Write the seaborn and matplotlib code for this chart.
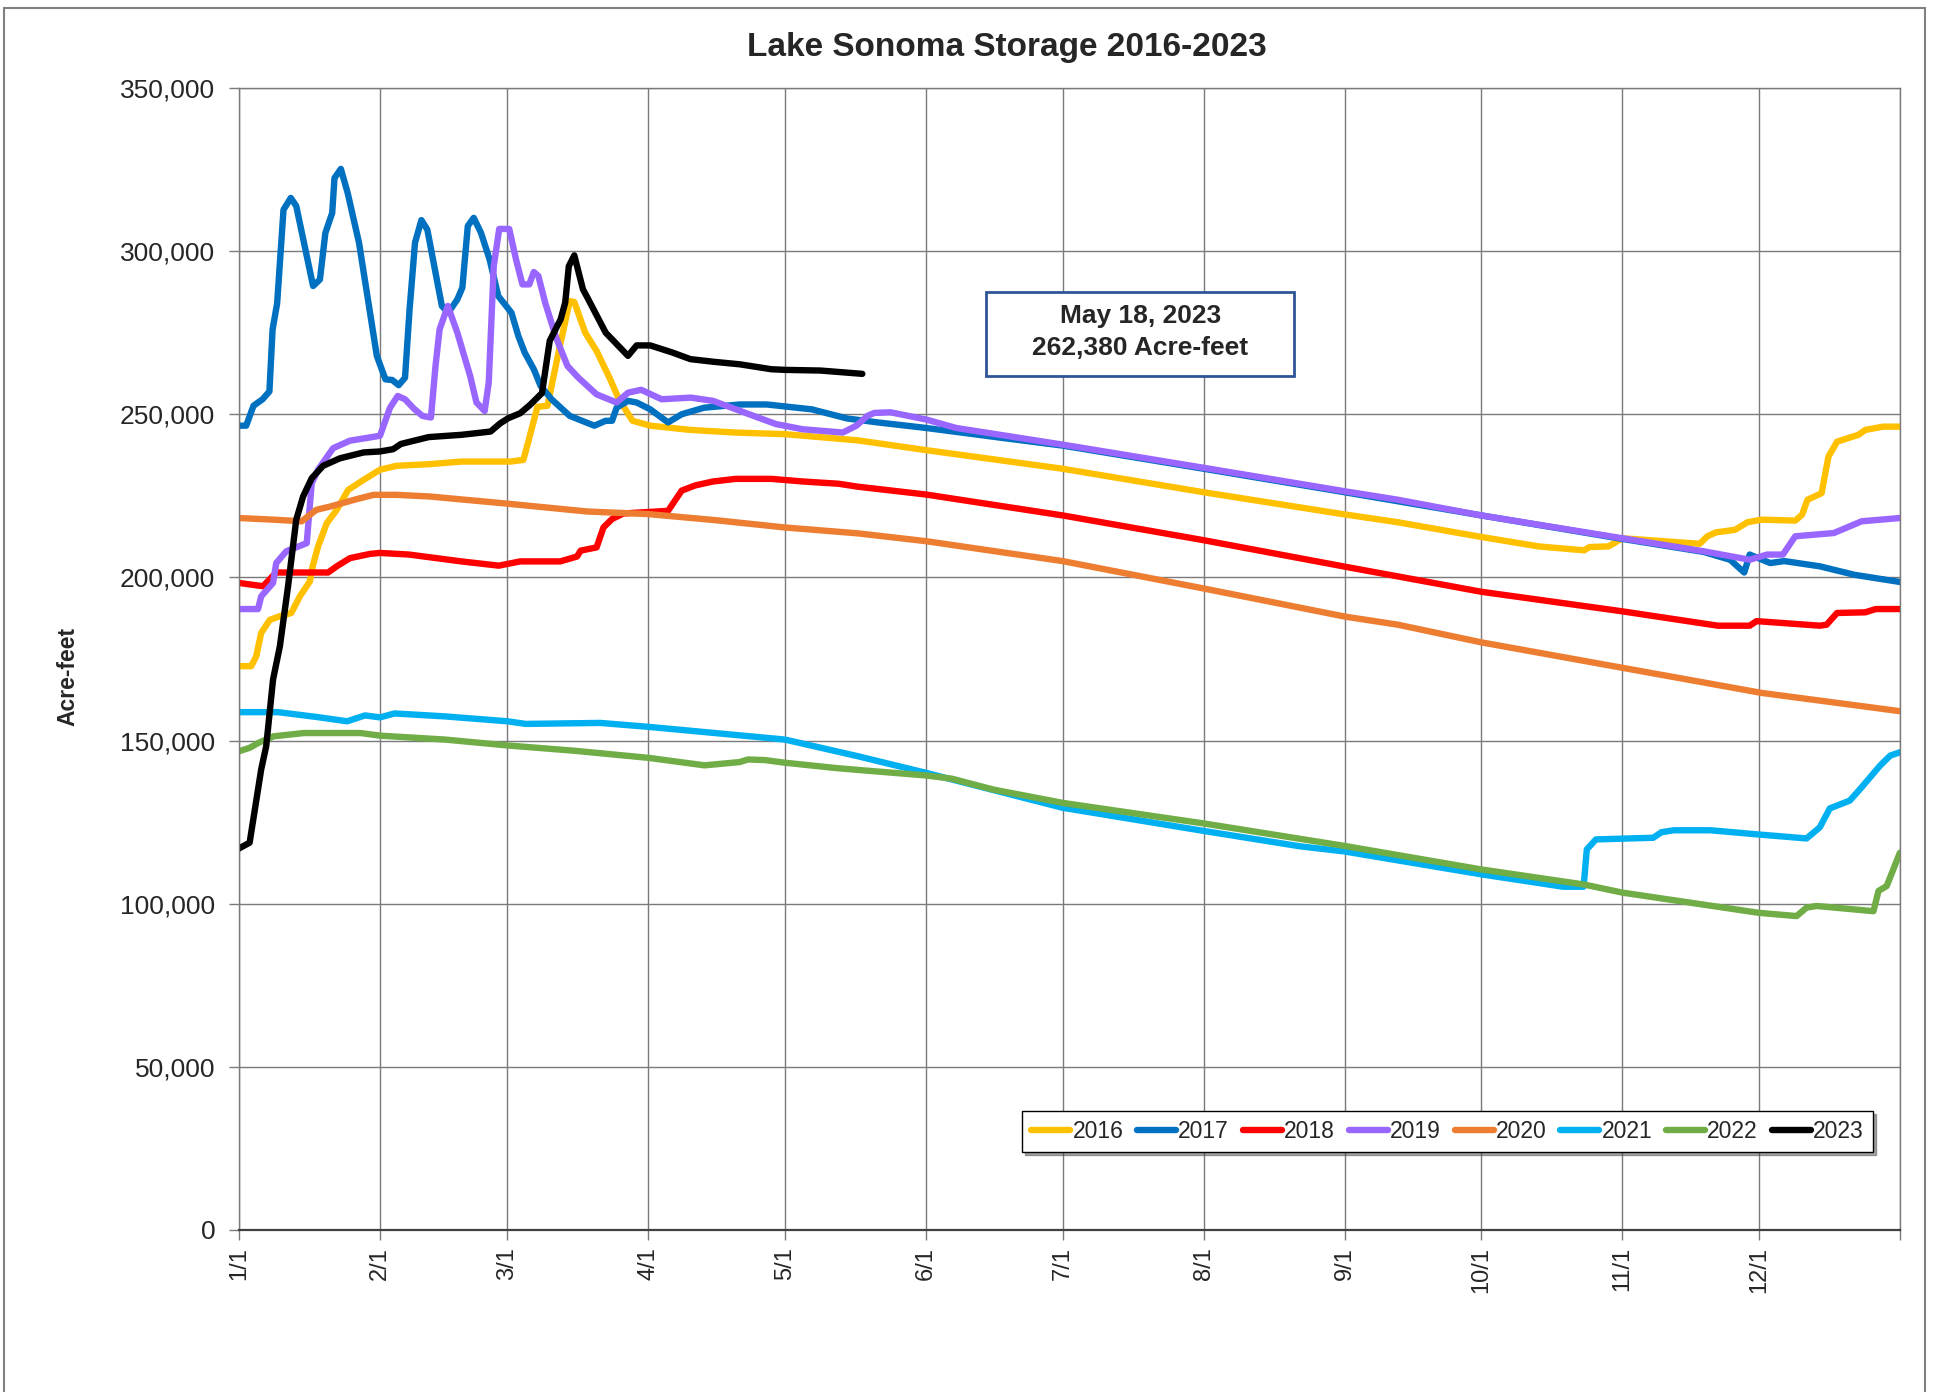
import numpy as np
import pandas as pd
import matplotlib
matplotlib.use('Agg')
import matplotlib.pyplot as plt
from matplotlib.patches import Rectangle
import seaborn as sns

# Lake Sonoma storage (thousand acre-feet), x = day of year (0 = 1/1)
years = ['2016', '2017', '2018', '2019', '2020', '2021', '2022', '2023']
colors = ['#FFC000', '#0070C0', '#FF0000', '#9966FF', '#ED7D31', '#00B0F0', '#70AD47', '#000000']

days_2016 = [0, 2.7, 3.8, 4.9, 6.8, 9, 11.5, 13.4, 15.6, 16.2, 17.4, 19.3, 21.5, 24, 27.4, 31, 34.6, 41.8,
             48.9, 59.6, 62.5, 63.5, 65.6, 67.8, 70.7, 72.7, 73.7, 76.1, 78.6, 81.6, 83.5, 86.5, 90.4, 99.2,
             109, 120, 136, 151, 181, 212, 243, 254.7, 273, 285.6, 295.6, 296.8, 301, 304, 321, 322.7, 324.6,
             328.8, 331.5, 334.6, 342, 343.5, 344.7, 347.8, 349.3, 351.2, 355.9, 357.4, 361.3, 365]
af_2016 = [172.8, 172.8, 175.8, 183.0, 187.0, 188.1, 189.1, 194.2, 198.8, 203.4, 209.5, 216.6, 220.7, 226.8,
           229.9, 233.0, 234.2, 234.7, 235.5, 235.5, 236.0, 241.1, 252.3, 252.6, 272.0, 284.7, 284.4, 275.0,
           269.4, 260.7, 254.6, 248.0, 246.5, 245.2, 244.4, 243.9, 242.0, 239.0, 233.3, 226.1, 219.3, 216.9,
           212.4, 209.5, 208.3, 209.3, 209.5, 212.0, 210.3, 212.6, 213.8, 214.6, 216.9, 217.7, 217.4, 219.2,
           223.8, 225.8, 237.0, 241.6, 243.7, 245.2, 246.2, 246.2]

days_2017 = [0, 1.6, 3.2, 5.2, 6.7, 7.4, 8.4, 9.8, 11.4, 12.6, 16.3, 17.8, 19, 20.5, 21, 22.4, 23.9, 26.4, 30.3,
             32.2, 33.7, 35.1, 36.5, 37.5, 38.7, 40.1, 41.4, 43.2, 44.6, 46, 48, 49.1, 50.3, 51.6, 53.2, 55.1,
             57, 59.9, 61.4, 62.8, 64.8, 66.3, 68.7, 72.7, 78.1, 80.6, 82, 83, 85.5, 87.4, 90.4, 94.3, 97.3,
             102.2, 110.1, 116, 125.9, 133.7, 140.4, 151, 167.5, 181, 212, 243, 273, 304, 321.9, 327.7, 330.8,
             332, 336.5, 339.6, 347.4, 355, 365]
af_2017 = [246.5, 246.5, 252.6, 254.6, 257.0, 276.0, 284.0, 312.7, 316.3, 313.8, 289.3, 291.3, 305.6, 311.7,
           322.4, 325.2, 317.8, 302.5, 267.9, 260.7, 260.5, 258.9, 261.2, 282.1, 302.6, 309.5, 306.6, 293.4,
           283.2, 281.1, 285.2, 288.8, 307.7, 310.2, 305.6, 297.4, 286.2, 281.1, 274.0, 268.9, 263.8, 258.7,
           254.6, 249.5, 246.5, 248.0, 248.0, 252.0, 254.1, 253.6, 251.5, 247.5, 250.0, 252.0, 253.0, 253.0,
           251.5, 248.7, 247.5, 245.8, 242.8, 240.4, 233.3, 226.1, 219.0, 211.8, 207.8, 205.4, 201.5, 207.0,
           204.4, 205.0, 203.4, 200.8, 198.6]

days_2018 = [0, 5.3, 8.2, 19.6, 21.5, 24.4, 28.8, 31, 37.4, 48.9, 57.1, 61.8, 70.6, 74.3, 75.1, 78.6, 80.1, 82,
             84.5, 94.3, 97.3, 100.3, 104.2, 109.2, 117, 123.9, 131.8, 136, 151, 181, 212, 243, 254.7, 273, 304,
             325, 332, 333.5, 347.4, 348.9, 351.2, 357.4, 359.7, 365]
af_2018 = [198.3, 197.3, 201.5, 201.5, 203.4, 205.9, 207.2, 207.5, 207.0, 204.9, 203.6, 204.9, 204.9, 206.4,
           208.2, 209.2, 215.3, 217.9, 219.6, 220.4, 226.6, 228.2, 229.4, 230.2, 230.2, 229.4, 228.7, 227.8,
           225.4, 219.0, 211.4, 203.3, 200.3, 195.6, 189.6, 185.2, 185.2, 186.6, 185.2, 185.5, 189.1, 189.3,
           190.3, 190.3]

days_2019 = [0, 4.2, 4.9, 7.5, 8.2, 10.4, 14.9, 16, 17.4, 20.7, 24.4, 31, 33.2, 34.9, 36.5, 38.4, 40.3, 42.2,
             43.2, 44.1, 45.9, 48, 50.8, 52.2, 54, 54.9, 56, 57.2, 59.4, 60.9, 62.3, 63.8, 64.8, 65.8, 67.3, 69.7,
             72.2, 74.6, 78.6, 83, 85.5, 88.4, 92.9, 99.3, 104.2, 113.1, 118, 123.9, 132.7, 135.7, 138.1, 139.6,
             143.2, 151, 157.6, 181, 212, 243, 254.7, 273, 304, 321.9, 332, 335.8, 339.3, 342, 350.5, 356.6, 365]
af_2019 = [190.3, 190.3, 194.2, 198.3, 204.4, 208.0, 210.5, 228.9, 233.0, 239.6, 241.9, 243.4, 252.0, 255.6,
           254.6, 251.8, 249.5, 249.0, 264.8, 276.0, 283.2, 275.0, 261.8, 253.6, 251.0, 259.7, 295.4, 306.8,
           306.8, 297.4, 289.8, 289.8, 293.6, 292.4, 284.2, 273.5, 264.8, 261.2, 256.1, 253.6, 256.6, 257.5,
           254.6, 255.1, 254.1, 249.5, 247.0, 245.4, 244.4, 246.5, 249.5, 250.4, 250.6, 248.4, 245.8, 240.7,
           233.6, 226.4, 223.8, 219.0, 212.0, 208.0, 205.4, 207.0, 207.0, 212.6, 213.6, 217.2, 218.2]

days_2020 = [0, 7.5, 13.8, 17, 20, 25.9, 29.6, 34.6, 41.9, 59, 76.5, 90, 105, 120, 136, 151, 181, 212, 243,
             254.7, 273, 304, 334.6, 365]
af_2020 = [218.2, 217.7, 217.2, 220.7, 221.7, 224.0, 225.3, 225.3, 224.8, 222.6, 220.2, 219.4, 217.5, 215.3,
           213.5, 211.1, 205.0, 196.6, 188.0, 185.5, 180.1, 172.3, 164.6, 159.0]

days_2021 = [0, 8.6, 17.2, 23.8, 27.7, 31, 34.2, 45.3, 59, 63, 79.4, 90, 120, 136, 151, 181, 212, 233.1, 243,
             273, 291, 295.5, 296.2, 298.2, 310.8, 312.6, 315.3, 323.4, 334, 344.5, 347.4, 349.6, 354, 356.3,
             360.7, 362.9, 365]
af_2021 = [158.7, 158.7, 157.2, 155.9, 157.7, 157.1, 158.3, 157.4, 155.9, 155.1, 155.4, 154.2, 150.3, 145.2,
           140.1, 129.4, 122.3, 117.6, 116.0, 109.0, 105.2, 105.2, 116.6, 119.7, 120.2, 121.9, 122.5, 122.5,
           121.2, 120.0, 123.4, 129.2, 131.6, 135.2, 142.4, 145.4, 146.4]

days_2022 = [0, 2.4, 4.3, 7.6, 14.3, 26.7, 31, 45.3, 59, 73.5, 90, 102.3, 110, 111.9, 115.7, 120, 131, 136, 151,
             156.7, 165.7, 181, 212, 233.1, 243, 273, 295.5, 304, 334, 342.3, 344.5, 346.7, 359.2, 360.3, 362.1,
             365]
af_2022 = [146.7, 147.8, 149.3, 151.3, 152.3, 152.3, 151.5, 150.3, 148.5, 146.9, 144.7, 142.4, 143.4, 144.2,
           144.0, 143.2, 141.6, 141.0, 139.3, 138.3, 135.0, 130.9, 124.6, 119.9, 117.7, 110.5, 105.9, 103.4,
           97.2, 96.2, 98.8, 99.3, 97.7, 103.9, 105.4, 115.6]

days_2023 = [0, 2.35, 4.9, 6, 7.5, 9, 10.8, 12.6, 14.1, 16, 18.5, 22.2, 27.4, 31, 33.9, 35.6, 41.7, 48.9, 55.3,
             57.4, 59.2, 61.8, 64, 66.6, 68.3, 70.7, 71.7, 72.5, 73.7, 75.6, 76.6, 80.6, 85.5, 87.4, 90.4, 95.3,
             99.2, 104.2, 110.1, 117, 120, 127.8, 137]
af_2023 = [116.9, 118.7, 141.2, 148.3, 168.7, 178.9, 197.3, 217.7, 224.8, 230.4, 234.2, 236.5, 238.3, 238.6,
           239.3, 240.9, 243.0, 243.7, 244.7, 247.2, 248.8, 250.3, 252.9, 256.5, 272.5, 279.1, 284.2, 295.4,
           298.7, 288.3, 285.7, 275.0, 267.9, 271.1, 271.1, 268.9, 266.9, 266.1, 265.3, 263.8, 263.6, 263.4,
           262.38]

latest_date = 'May 18, 2023'

month_days = [0, 31, 59, 90, 120, 151, 181, 212, 243, 273, 304, 334, 365]
month_labels = ['1/1', '2/1', '3/1', '4/1', '5/1', '6/1', '7/1', '8/1', '9/1', '10/1', '11/1', '12/1', '']
y_ticks = [0, 50000, 100000, 150000, 200000, 250000, 300000, 350000]
y_labels = ['0', '50,000', '100,000', '150,000', '200,000', '250,000', '300,000', '350,000']

all_days = [days_2016, days_2017, days_2018, days_2019, days_2020, days_2021, days_2022, days_2023]
all_af = [af_2016, af_2017, af_2018, af_2019, af_2020, af_2021, af_2022, af_2023]

# tabla larga para seaborn
frames = []
for year, d, v in zip(years, all_days, all_af):
    frames.append(pd.DataFrame({'Day': d, 'Storage': np.array(v) * 1000, 'Year': year}))
df = pd.concat(frames, ignore_index=True)

sns.set_style('white')
plt.rcParams['font.family'] = ['Liberation Sans', 'DejaVu Sans']

fig = plt.figure(figsize=(19.44, 13.92), dpi=100)
ax = fig.add_axes([0.1229, 0.1164, 0.8544, 0.8204])

sns.lineplot(data=df, x='Day', y='Storage', hue='Year', palette=dict(zip(years, colors)),
             estimator=None, sort=False, linewidth=4.6, solid_capstyle='round',
             solid_joinstyle='round', ax=ax)

ax.set_xlim(0, 365)
ax.set_ylim(0, 350000)
ax.set_xticks(month_days)
ax.set_xticklabels(month_labels, rotation=90, fontsize=17)
ax.set_yticks(y_ticks)
ax.set_yticklabels(y_labels, fontsize=19)
ax.set_xlabel('')
ax.set_ylabel('')
ax.grid(True, color='#7a7a7a', linewidth=1.0)
for s in ax.spines.values():
    s.set_visible(True)
    s.set_color('#7a7a7a')
    s.set_linewidth(1.0)
ax.spines['bottom'].set_color('#404040')
ax.spines['bottom'].set_linewidth(1.6)
ax.tick_params(axis='both', direction='out', length=7, width=1, color='#7a7a7a', bottom=True, left=True)
ax.tick_params(axis='y', pad=10)
ax.tick_params(axis='x', pad=5)

# leyenda horizontal con sombra
sns.move_legend(ax, 'center', bbox_to_anchor=(0.7276, 0.0863), ncol=8, title=None, frameon=True,
                fancybox=False, shadow=True, fontsize=16.5, handlelength=1.7, handletextpad=0.1,
                columnspacing=0.6, borderpad=0.4, edgecolor='black', framealpha=1)
leg = ax.get_legend()
for line in leg.get_lines():
    line.set_linewidth(4.6)
    line.set_solid_capstyle('round')
leg.get_frame().set_linewidth(1.0)

# cuadro con el dato mas reciente
ax.add_patch(Rectangle((0.4500, 0.7481), 0.1854, 0.0736, transform=ax.transAxes, facecolor='white',
                       edgecolor='#2F5597', linewidth=2, zorder=5))
ax.text(0.5428, 0.7945, latest_date, transform=ax.transAxes, ha='center', va='baseline',
        fontsize=19, fontweight='bold', zorder=6)
ax.text(0.5428, 0.7662, f'{int(round(af_2023[-1] * 1000)):,} Acre-feet', transform=ax.transAxes,
        ha='center', va='baseline', fontsize=19, fontweight='bold', zorder=6)

fig.text(0.518, 0.966, 'Lake Sonoma Storage 2016-2023', ha='center', va='center',
         fontsize=24, fontweight='bold')
fig.text(0.035, 0.514, 'Acre-feet', rotation=90, ha='center', va='center', fontsize=16.5, fontweight='bold')

# borde del grafico
fig.add_artist(Rectangle((4 / 1944, -0.01), 1921 / 1944, 1.0046, transform=fig.transFigure,
                         fill=False, edgecolor='#808080', linewidth=1.5))

fig.savefig('out.png', dpi=100)
